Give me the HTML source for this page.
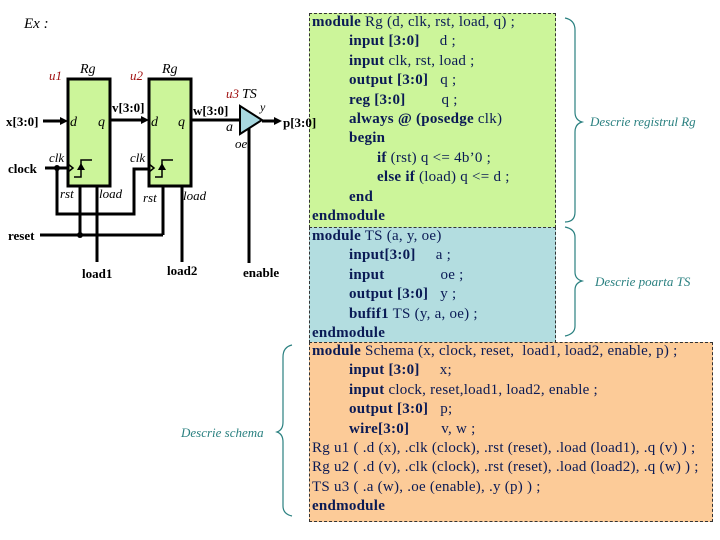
<!DOCTYPE html>
<html><head><meta charset="utf-8"><style>
body{margin:0;background:#fff;width:720px;height:540px;overflow:hidden;position:relative;font-family:"Liberation Serif",serif}
.box{position:absolute;border:1px dashed #333;box-sizing:border-box}
.code{position:absolute;font-size:15px;letter-spacing:0.25px;color:#0a1a55;line-height:19.4px}
.code div{height:19.4px;white-space:pre}
.i1{padding-left:37px}.i2{padding-left:65px}
b{color:#0a1a55}
</style></head><body>
<div class="box" style="left:309px;top:13px;width:247px;height:215px;background:#ccf59a"></div>
<div class="box" style="left:309px;top:227px;width:247px;height:116px;background:#b3dde0"></div>
<div class="box" style="left:309px;top:342px;width:404px;height:180px;background:#fccb98"></div>
<div class="code" style="left:312px;top:13px"><div><b>module</b> Rg (d, clk, rst, load, q) ;</div><div class="i1"><b>input [3:0]</b>     d ;</div><div class="i1"><b>input</b> clk, rst, load ;</div><div class="i1"><b>output [3:0]</b>   q ;</div><div class="i1"><b>reg [3:0]</b>         q ;</div><div class="i1"><b>always @ (posedge</b> clk)</div><div class="i1"><b>begin</b></div><div class="i2"><b>if</b> (rst) q &lt;= 4b’0 ;</div><div class="i2"><b>else if</b> (load) q &lt;= d ;</div><div class="i1"><b>end</b></div><div><b>endmodule</b></div></div>
<div class="code" style="left:312px;top:227px"><div><b>module</b> TS (a, y, oe)</div><div class="i1"><b>input[3:0]</b>     a ;</div><div class="i1"><b>input</b>              oe ;</div><div class="i1"><b>output [3:0]</b>   y ;</div><div class="i1"><b>bufif1</b> TS (y, a, oe) ;</div><div><b>endmodule</b></div></div>
<div class="code" style="left:312px;top:342px"><div><b>module</b> Schema (x, clock, reset,  load1, load2, enable, p) ;</div><div class="i1"><b>input [3:0]</b>     x;</div><div class="i1"><b>input</b> clock, reset,load1, load2, enable ;</div><div class="i1"><b>output [3:0]</b>   p;</div><div class="i1"><b>wire[3:0]</b>        v, w ;</div><div>Rg u1 ( .d (x), .clk (clock), .rst (reset), .load (load1), .q (v) ) ;</div><div>Rg u2 ( .d (v), .clk (clock), .rst (reset), .load (load2), .q (w) ) ;</div><div>TS u3 ( .a (w), .oe (enable), .y (p) ) ;</div><div><b>endmodule</b></div></div>
<svg width="720" height="540" style="position:absolute;left:0;top:0" font-family="Liberation Serif,serif">
<g fill="none" stroke="#2a8080" stroke-width="1.2">
<path d="M565 18 Q575 20 575 30 L575 112 Q575 120 582 122 Q575 124 575 132 L575 212 Q575 222 565 222"/>
<path d="M565 227 Q575 229 575 237 L575 272 Q575 279 582 281 Q575 283 575 290 L575 326 Q575 334 565 336"/>
<path d="M292 345 Q283 347 283 357 L283 422 Q283 430 277 432 Q283 434 283 442 L283 506 Q283 514 292 516"/>
</g>
<g fill="#2a8080" font-style="italic" font-size="13">
<text x="590" y="126">Descrie registrul Rg</text>
<text x="595" y="286">Descrie poarta TS</text>
<text x="181" y="437">Descrie schema</text>
</g>
<text x="24" y="28" font-style="italic" font-size="15">Ex :</text>
<g stroke="#000" stroke-width="3" fill="none">
<line x1="43" y1="121" x2="62" y2="121"/>
<line x1="110" y1="120" x2="143" y2="120"/>
<line x1="191" y1="120" x2="240" y2="120"/>
<line x1="262" y1="121" x2="276" y2="121"/>
<line x1="45" y1="168" x2="68" y2="168"/>
<polyline points="57,168 57,214 134,214 134,169 149,169"/>
<line x1="40" y1="235" x2="163" y2="235"/>
<line x1="163" y1="235" x2="163" y2="186"/>
<line x1="80" y1="186" x2="80" y2="235"/>
<line x1="97" y1="186" x2="97" y2="262"/>
<line x1="182" y1="186" x2="182" y2="262"/>
<line x1="249" y1="127" x2="249" y2="263"/>
</g>
<g fill="#000">
<polygon points="68,121 60,117 60,125"/>
<polygon points="149,120 141,116 141,124"/>
<polygon points="282,121 274,117 274,125"/>
<circle cx="57" cy="168" r="3"/><circle cx="80" cy="235" r="3"/>
</g>
<g fill="#ccf59a" stroke="#000" stroke-width="3">
<rect x="68" y="79" width="42" height="107"/>
<rect x="149" y="79" width="42" height="107"/>
</g>
<polygon points="240,106 240,134 262,120" fill="#a8d8e0" stroke="#000" stroke-width="2"/>
<g stroke="#000" stroke-width="1.5" fill="none">
<polyline points="68,164 73,168 68,172"/>
<polyline points="74,177 81,177 81,160 92,160"/>
<polyline points="149,164 154,168 149,172"/>
<polyline points="155,177 162,177 162,160 173,160"/>
</g>
<g fill="#000"><polygon points="81,163 77,170 85,170"/><polygon points="162,163 158,170 166,170"/></g>
<g font-style="italic" font-size="14">
<text x="80" y="73">Rg</text><text x="162" y="73">Rg</text>
<text x="70" y="126">d</text><text x="98" y="126">q</text>
<text x="151" y="126">d</text><text x="178" y="126">q</text>
<text x="49" y="162" font-size="13">clk</text><text x="130" y="162" font-size="13">clk</text>
<text x="60" y="198" font-size="13">rst</text><text x="99" y="198" font-size="13">load</text>
<text x="143" y="202" font-size="13">rst</text><text x="183" y="200" font-size="13">load</text>
<text x="242" y="98">TS</text><text x="260" y="111" font-size="12">y</text>
<text x="226" y="131">a</text><text x="235" y="148" font-size="13">oe</text>
</g>
<g font-style="italic" font-size="13" fill="#a01010">
<text x="49" y="80">u1</text><text x="130" y="80">u2</text><text x="226" y="98">u3</text>
</g>
<g font-weight="bold" font-size="13">
<text x="6" y="126">x[3:0]</text><text x="112" y="112">v[3:0]</text>
<text x="193" y="115">w[3:0]</text><text x="283" y="127">p[3:0]</text>
<text x="8" y="173">clock</text><text x="8" y="240">reset</text>
<text x="82" y="278">load1</text><text x="167" y="275">load2</text><text x="243" y="277">enable</text>
</g>
</svg>
</body></html>
